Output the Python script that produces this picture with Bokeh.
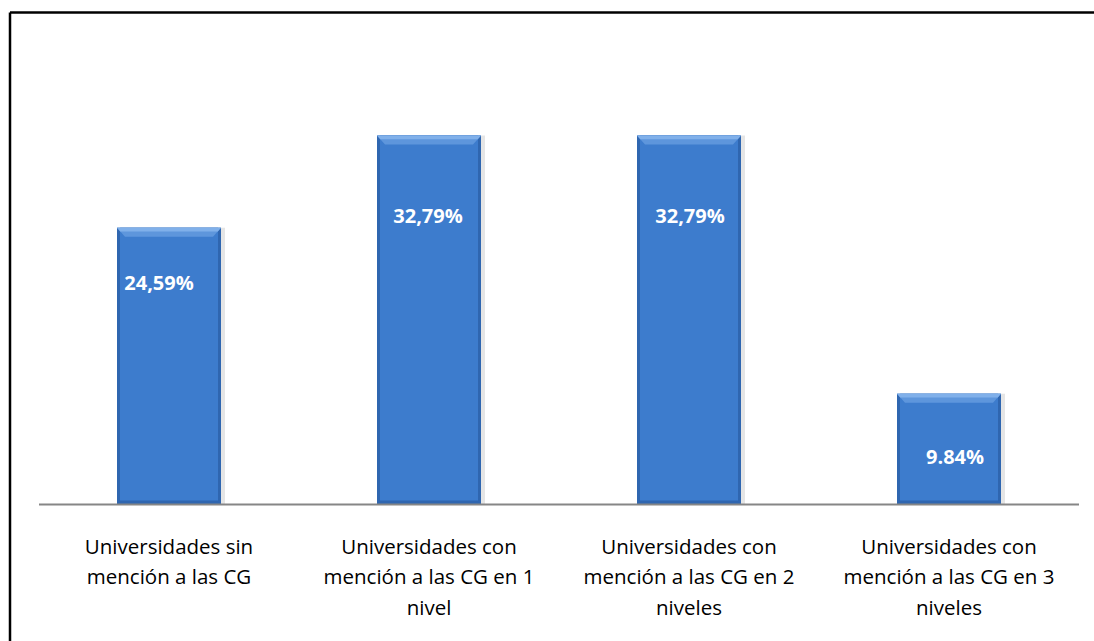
from bokeh.plotting import figure
from bokeh.models import ColumnDataSource, Range1d
from bokeh.core.properties import value
from bokeh.embed import file_html
from bokeh.resources import INLINE

categories = [
    "Universidades sin\nmención a las CG",
    "Universidades con\nmención a las CG en 1\nnivel",
    "Universidades con\nmención a las CG en 2\nniveles",
    "Universidades con\nmención a las CG en 3\nniveles",
]
values = [24.59, 32.79, 32.79, 9.84]
value_labels = ["24,59%", "32,79%", "32,79%", "9.84%"]

# style-only offsets (screen px) for the value labels
label_dx = [-10, -1, 1, 6]
label_dy = [55, 80, 80, 63]

xs = list(range(len(values)))

PX_X = 260.0   # px per category
PX_Y = 11.25   # px per percent
W, H = 1094, 641
LEFT, TOP = 7, 9
frame_w, frame_h = W - LEFT, H - TOP
x0 = -(168.5 - LEFT) / PX_X
x1 = x0 + frame_w / PX_X
y1 = (504 - TOP) / PX_Y
y0 = y1 - frame_h / PX_Y

p = figure(width=W, height=H, output_backend="svg", toolbar_location=None,
           x_range=Range1d(x0, x1), y_range=Range1d(y0, y1),
           min_border_left=LEFT, min_border_right=0, min_border_top=TOP, min_border_bottom=0)
p.axis.visible = False
p.grid.visible = False
p.outline_line_color = None
p.background_fill_color = "white"
p.border_fill_color = "white"

HALF = 0.2
dxi = 3 / PX_X      # side edge inset
dyb = 4 / PX_Y      # bottom edge inset
bx = 8 / PX_X       # bevel horizontal inset
by = 9 / PX_Y       # bevel depth

src = ColumnDataSource(dict(
    x=xs, top=values, lab=value_labels, cat=categories, dx=label_dx, dy=label_dy,
    xs_shadow=[x + 4 / PX_X for x in xs],
    cat_y=[-2.45] * len(xs),
))

# soft shadow
p.vbar(x="xs_shadow", top="top", bottom=0, width=2 * HALF, source=src,
       fill_color="#d0d0d0", line_color=None, fill_alpha=0.55)
# bar body (darker edges)
p.vbar(x="x", top="top", bottom=0, width=2 * HALF, source=src,
       fill_color="#2f66b0", line_color=None)
# inner body
p.vbar(x="x", top="top", bottom=dyb, width=2 * (HALF - dxi), source=src,
       fill_color="#3d7ccd", line_color=None)

# top bevel (trapezoids)
bev_xs, bev_ys, bev2_xs, bev2_ys = [], [], [], []
for x, v in zip(xs, values):
    xl, xr = x - HALF, x + HALF
    bev_xs.append([xl, xr, xr - bx, xl + bx])
    bev_ys.append([v, v, v - by, v - by])
    bev2_xs.append([xl, xr, xr - bx * 0.4, xl + bx * 0.4])
    bev2_ys.append([v, v, v - by * 0.4, v - by * 0.4])
p.patches(bev_xs, bev_ys, fill_color="#5e96dc", line_color=None)
p.patches(bev2_xs, bev2_ys, fill_color="#80b0ea", line_color=None)

# baseline
p.segment(x0=[-0.5], y0=[0], x1=[len(values) - 0.5], y1=[0],
          line_color="#868686", line_width=2)

# chart border (top and left only, as in the original)
bl = x0 + 2.5 / PX_X
bt = y1 - 3 / PX_Y
p.segment(x0=[bl, bl], y0=[y0, bt], x1=[bl, x1], y1=[bt, bt],
          line_color="black", line_width=2.5)

# value labels
p.text(x="x", y="top", text="lab", source=src, x_offset="dx", y_offset="dy",
       text_align="center", text_baseline="middle",
       text_color="white", text_font=value("Open Sans"), text_font_style="bold",
       text_font_size="20px")

# category labels
p.text(x="x", y="cat_y", text="cat", source=src,
       text_align="center", text_baseline="top", text_line_height=1.08,
       text_color="black", text_font=value("Open Sans"), text_font_size="20.5px")

open("out.html", "w").write(file_html(p, INLINE))
